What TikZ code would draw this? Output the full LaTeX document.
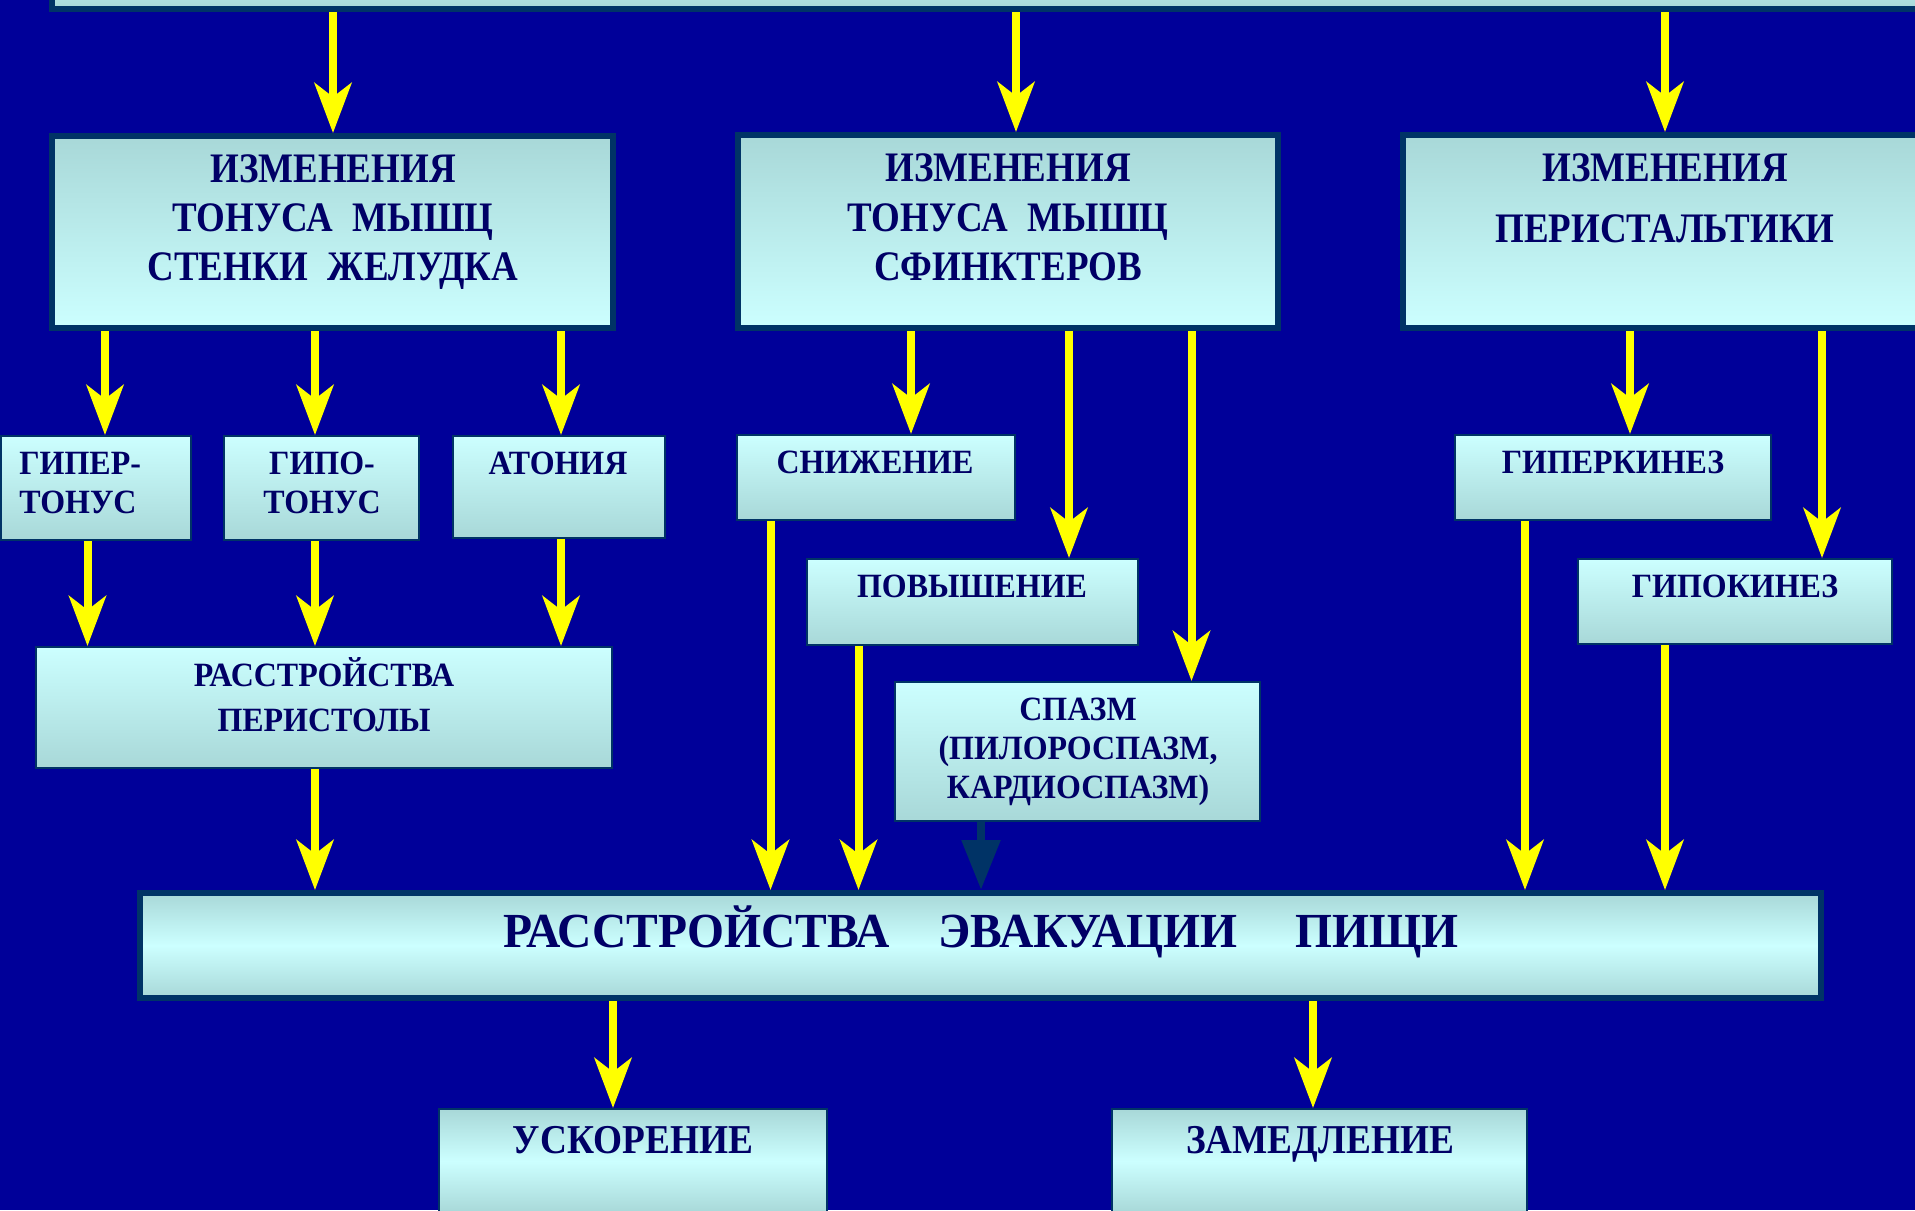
\documentclass[tikz,border=0pt]{standalone}
\usepackage{fontspec}
\setmainfont{Liberation Serif}[FakeStretch=0.88]
\newfontfamily\fsmall{Liberation Serif}[FakeStretch=0.94]
\newfontfamily\fhuge{Liberation Serif}[FakeStretch=0.97]
\newfontfamily\fbot{Liberation Serif}[FakeStretch=0.91]
\usetikzlibrary{arrows.meta}
\definecolor{bg}{HTML}{000099}
\definecolor{cdark}{HTML}{A8D8D8}
\definecolor{clight}{HTML}{CCFFFF}
\definecolor{bord}{HTML}{003366}
\definecolor{inner}{HTML}{6FA8B8}
\definecolor{ink}{HTML}{000066}
\definecolor{yel}{HTML}{FFFF00}
\begin{document}
\begin{tikzpicture}[x=0.5pt,y=-0.5pt,
  bx/.style={rectangle, inner sep=0pt},
  thickbox/.style={bx, draw=bord, line width=3pt,
    append after command={
      \pgfextra{\draw[inner, line width=0.5pt]
        ([shift={(1.75pt,-1.75pt)}]\tikzlastnode.north west) rectangle
        ([shift={(-1.75pt,1.75pt)}]\tikzlastnode.south east);}}},
  thinbox/.style={bx, draw=bord, line width=1pt},
  shdown/.style={top color=cdark, bottom color=clight},
  shup/.style={top color=clight, bottom color=cdark},
  shmid/.style={top color=cdark, bottom color=cdark, middle color=clight},
  tbig/.style={text=ink, font=\bfseries\fontsize{21pt}{24pt}\selectfont, anchor=base, inner sep=0pt},
  tsmall/.style={text=ink, font=\fsmall\bfseries\fontsize{17pt}{20pt}\selectfont, anchor=base, inner sep=0pt},
  tbot/.style={text=ink, font=\fbot\bfseries\fontsize{20.5pt}{24pt}\selectfont, anchor=base, inner sep=0pt},
  thuge/.style={text=ink, font=\fhuge\bfseries\fontsize{24.5pt}{28pt}\selectfont, anchor=base, inner sep=0pt},
  arr/.style={draw=yel, line width=4pt, -{Stealth[length=25pt,width=18.5pt,inset=7pt]}},
  darr/.style={draw=bord, line width=4.3pt, -{Triangle[length=25pt,width=18.5pt]}},
]
\fill[bg] (0,0) rectangle (1915,1210);
\useasboundingbox (0,0) rectangle (1915,1210);
\clip (0,0) rectangle (1915,1210);

% boxes
\node[thickbox, shup, minimum width=941.5pt, minimum height=29.5pt] (top) at (993.5,-20.5) {};
\node[thickbox, shdown, minimum width=280.5pt, minimum height=96pt] (A) at (332.5,232) {};
\node[thickbox, shdown, minimum width=270pt, minimum height=96.5pt] (B) at (1008,231.5) {};
\node[thickbox, shdown, minimum width=266pt, minimum height=96.5pt] (C) at (1669,231.5) {};

\node[thinbox, shup, minimum width=95pt, minimum height=52pt] (hyper) at (96,488) {};
\node[thinbox, shup, minimum width=97.5pt, minimum height=52pt] (hypo) at (321.5,488) {};
\node[thinbox, shup, minimum width=106pt, minimum height=51pt] (aton) at (559,487) {};
\node[thinbox, shup, minimum width=288pt, minimum height=60.5pt] (perist) at (324,707.5) {};
\node[thinbox, shup, minimum width=139pt, minimum height=42.5pt] (snizh) at (876,477.5) {};
\node[thinbox, shup, minimum width=165.5pt, minimum height=43pt] (povysh) at (972.5,602) {};
\node[thinbox, shup, minimum width=182.5pt, minimum height=69.5pt] (spazm) at (1077.5,751.5) {};
\node[thinbox, shup, minimum width=158pt, minimum height=42.5pt] (hyperk) at (1613,477.5) {};
\node[thinbox, shup, minimum width=157pt, minimum height=42.5pt] (hypok) at (1735,601.5) {};
\node[thickbox, shmid, minimum width=840.5pt, minimum height=52.5pt] (evac) at (980.5,945.5) {};
\node[thinbox, shmid, minimum width=194pt, minimum height=52pt] (uskor) at (633,1161) {};
\node[thinbox, shmid, minimum width=207.5pt, minimum height=52pt] (zamedl) at (1319.5,1161) {};

% texts
\node[tbig] (tA1) at (333,182) {ИЗМЕНЕНИЯ};
\node[tbig] (tA2) at (333,231) {ТОНУСА\hspace{10pt}МЫШЦ};
\node[tbig] (tA3) at (333,280) {СТЕНКИ\hspace{10pt}ЖЕЛУДКА};
\node[tbig] (tB1) at (1008,181) {ИЗМЕНЕНИЯ};
\node[tbig] (tB2) at (1008,231) {ТОНУСА\hspace{10pt}МЫШЦ};
\node[tbig] (tB3) at (1008,280) {СФИНКТЕРОВ};
\node[tbig] (tC1) at (1665,181) {ИЗМЕНЕНИЯ};
\node[tbig] (tC2) at (1665,242) {ПЕРИСТАЛЬТИКИ};

\node[tsmall, anchor=base west] (th1) at (19,474.5) {ГИПЕР-};
\node[tsmall, anchor=base west] (th2) at (19,513.5) {ТОНУС};
\node[tsmall] (tg1) at (322,474.5) {ГИПО-};
\node[tsmall] (tg2) at (322,513.5) {ТОНУС};
\node[tsmall] (tat) at (558,474.5) {АТОНИЯ};
\node[tsmall] (tp1) at (324,686) {РАССТРОЙСТВА};
\node[tsmall] (tp2) at (324,731) {ПЕРИСТОЛЫ};
\node[tsmall] (tsn) at (875,473) {СНИЖЕНИЕ};
\node[tsmall] (tpo) at (972,597) {ПОВЫШЕНИЕ};
\node[tsmall] (ts1) at (1078,720) {СПАЗМ};
\node[tsmall] (ts2) at (1078,759) {(ПИЛОРОСПАЗМ,};
\node[tsmall] (ts3) at (1078,798) {КАРДИОСПАЗМ)};
\node[tsmall] (thk) at (1613,473) {ГИПЕРКИНЕЗ};
\node[tsmall] (tgk) at (1735,597) {ГИПОКИНЕЗ};
\node[thuge] (tev) at (981,947) {РАССТРОЙСТВА\hspace{24pt}ЭВАКУАЦИИ\hspace{29pt}ПИЩИ};
\node[tbot] (tus) at (633,1153) {УСКОРЕНИЕ};
\node[tbot] (tza) at (1320,1153) {ЗАМЕДЛЕНИЕ};

% x positions of connectors
\coordinate (xa) at (333,0);
\coordinate (xb) at (1016,0);
\coordinate (xc) at (1665,0);
\coordinate (x1) at (105,0);
\coordinate (x2) at (315,0);
\coordinate (x3) at (561,0);
\coordinate (x4) at (87.5,0);
\coordinate (x5) at (911,0);
\coordinate (x6) at (1069,0);
\coordinate (x7) at (1191.5,0);
\coordinate (x8) at (770.5,0);
\coordinate (x9) at (858.5,0);
\coordinate (x10) at (981,0);
\coordinate (x11) at (1630,0);
\coordinate (x12) at (1822,0);
\coordinate (x13) at (1525,0);
\coordinate (x14) at (613,0);
\coordinate (x15) at (1313,0);

% connectors
\draw[arr] (top.south -| xa) -- (A.north -| xa);
\draw[arr] (top.south -| xb) -- (B.north -| xb);
\draw[arr] (top.south -| xc) -- (C.north -| xc);
\draw[arr] (A.south -| x1) -- (hyper.north -| x1);
\draw[arr] (A.south -| x2) -- (hypo.north -| x2);
\draw[arr] (A.south -| x3) -- (aton.north -| x3);
\draw[arr] (hyper.south -| x4) -- (perist.north -| x4);
\draw[arr] (hypo.south -| x2) -- (perist.north -| x2);
\draw[arr] (aton.south -| x3) -- (perist.north -| x3);
\draw[arr] (perist.south -| x2) -- (evac.north -| x2);
\draw[arr] (B.south -| x5) -- (snizh.north -| x5);
\draw[arr] (B.south -| x6) -- (povysh.north -| x6);
\draw[arr] (B.south -| x7) -- (spazm.north -| x7);
\draw[arr] (snizh.south -| x8) -- (evac.north -| x8);
\draw[arr] (povysh.south -| x9) -- (evac.north -| x9);
\draw[darr] (spazm.south -| x10) -- (evac.north -| x10);
\draw[arr] (C.south -| x11) -- (hyperk.north -| x11);
\draw[arr] (C.south -| x12) -- (hypok.north -| x12);
\draw[arr] (hyperk.south -| x13) -- (evac.north -| x13);
\draw[arr] (hypok.south -| xc) -- (evac.north -| xc);
\draw[arr] (evac.south -| x14) -- (uskor.north -| x14);
\draw[arr] (evac.south -| x15) -- (zamedl.north -| x15);
\end{tikzpicture}
\end{document}
